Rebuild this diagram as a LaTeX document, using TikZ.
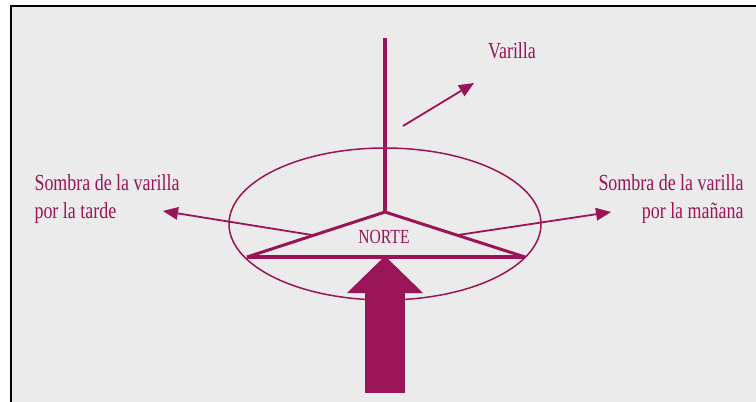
\documentclass[tikz,border=0pt]{standalone}
\usepackage{fontspec}
\setmainfont{Liberation Serif}[FakeStretch=0.78]
\usetikzlibrary{arrows.meta,shapes.geometric}
\definecolor{plum}{HTML}{9A1458}
\definecolor{panel}{HTML}{EBEBEB}

\begin{document}
\begin{tikzpicture}[x=1pt,y=-1pt, every node/.style={text=plum,font=\fontsize{23}{28}\selectfont},
  shadowarrow/.style={plum,line width=1.8pt,-{Triangle[length=15pt,width=13pt,line width=0pt]}}]
\useasboundingbox (0,0) rectangle (756,402);
\fill[panel] (11,6) rectangle (756,402);
\draw[line width=2.5pt] (11,402) -- (11,6) -- (756,6);
\coordinate (top) at (385,38);
\coordinate (apex) at (385,212);
\coordinate (bl) at (247,257);
\coordinate (br) at (525,257);
\coordinate (sl) at (312,235);\coordinate (sr) at (458,235);
\coordinate (tl) at (163,211);\coordinate (tr) at (611,212);
\coordinate (vs) at (403,126);\coordinate (vt) at (474,83);
\coordinate (foot) at (385,393);\coordinate (tip) at (385,256);
\node[draw=plum,line width=1.5pt,ellipse,minimum width=312pt,minimum height=152pt,inner sep=0pt] (dial) at (385,224) {};
\node[font=\fontsize{20}{24}\selectfont] (norte) at (384,237) {NORTE};
\node[align=left,anchor=west] (tarde) at (31,199) {Sombra de la varilla\\por la tarde};
\node[align=right,anchor=east] (manana) at (747,199) {Sombra de la varilla\\por la mañana};
\node (varilla) at (512,51) {Varilla};
\draw[plum,line width=3.5pt] (top) -- (apex);
\draw[plum,line width=3pt] (bl) -- (apex) -- (br);
\draw[plum,line width=4.5pt] (bl) -- (br);
\draw[shadowarrow] (sl) -- (tl);\draw[shadowarrow] (sr) -- (tr);
\draw[shadowarrow] (vs) -- (vt);
\draw[plum,line width=40pt,-{Triangle[length=37pt,width=76pt,line width=0pt]}] (foot) -- (tip);
\end{tikzpicture}
\end{document}
